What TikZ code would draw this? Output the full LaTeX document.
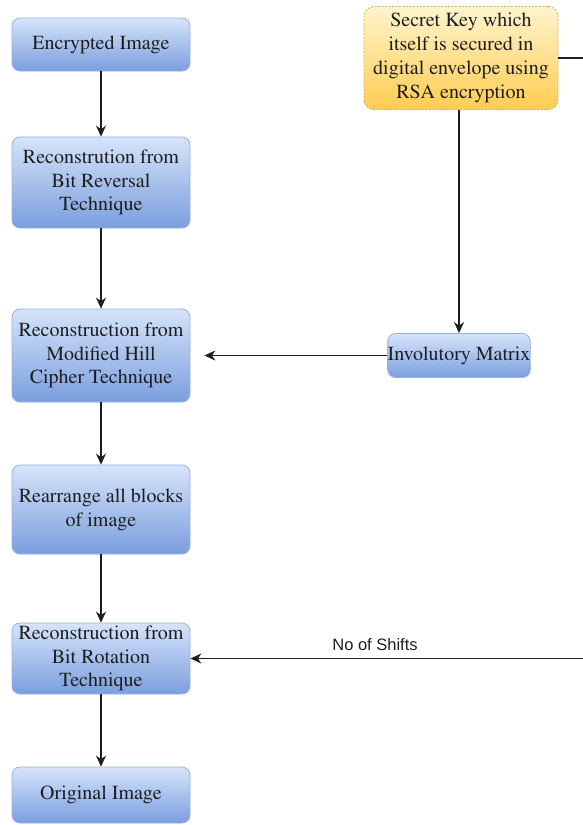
\documentclass[tikz,border=0pt]{standalone}
\usepackage{fontspec}
\newfontfamily\lsans{Liberation Sans}
\newcommand\timesfont{\fontencoding{OT1}\fontfamily{ptm}\selectfont}
\usetikzlibrary{arrows.meta}
\definecolor{bluetop}{RGB}{214,228,250}
\definecolor{bluebot}{RGB}{122,158,222}
\definecolor{blueline}{RGB}{150,176,222}
\definecolor{yeltop}{RGB}{255,244,205}
\definecolor{yelbot}{RGB}{255,204,82}
\definecolor{yelline}{RGB}{210,175,90}
\definecolor{txt}{RGB}{30,30,30}
\definecolor{conncol}{RGB}{30,30,30}
\begin{document}
\begin{tikzpicture}[x=1pt,y=-1pt,
  bluebox/.style={rectangle, rounded corners=8pt, draw=blueline, line width=0.8pt,
    top color=bluetop, bottom color=bluebot, align=center, text=txt,
    font=\timesfont\fontsize{20}{23.8}\selectfont, inner sep=0pt},
  keybox/.style={rectangle, rounded corners=10pt, draw=yelline, line width=0.9pt,
    dash pattern=on 2pt off 1.5pt, top color=yeltop, bottom color=yelbot,
    align=center, text=txt, font=\timesfont\fontsize{20}{23.8}\selectfont, inner sep=0pt},
  conn/.style={draw=conncol, line width=1.3pt, -{Stealth[length=11pt,width=10pt,inset=3.5pt]}}
]
\useasboundingbox (0,0) rectangle (583,825);
\clip (0,0) rectangle (583,825);
\fill[white] (0,0) rectangle (583,825);

\node[bluebox, minimum width=178pt, minimum height=53pt] (enc) at (101,44.5) {Encrypted Image};
\node[bluebox, minimum width=178pt, minimum height=91pt] (rev) at (101,182.5) {Reconstrution from\\Bit Reversal\\Technique};
\node[bluebox, minimum width=178pt, minimum height=93pt] (hill) at (101,355.5) {Reconstruction from\\Modified Hill\\Cipher Technique};
\node[bluebox, minimum width=178pt, minimum height=89pt] (rea) at (101,509.5) {Rearrange all blocks\\of image};
\node[bluebox, minimum width=178pt, minimum height=71pt] (rot) at (101,658.5) {Reconstruction from\\Bit Rotation\\Technique};
\node[bluebox, minimum width=178pt, minimum height=56pt] (orig) at (101,795) {Original Image};
\node[bluebox, minimum width=142pt, minimum height=44pt] (inv) at (459,355.5) {Involutory Matrix};
\node[keybox, minimum width=194pt, minimum height=103pt] (key) at (461,58) {Secret Key which\\itself is secured in\\digital envelope using\\RSA encryption};

\draw[conn] (enc) -- (rev);
\draw[conn] (rev) -- (hill);
\draw[conn] (hill) -- (rea);
\draw[conn] (rea) -- (rot);
\draw[conn] (rot) -- (orig);
\draw[conn] (key.south -| inv.north) -- (inv.north);
\draw[conn, shorten >=14pt] (inv.west) -- (inv.west -| hill.east);
\draw[conn] (key.east) -- ++(50,0) |- (rot.east);
\node[font=\lsans\fontsize{16.5}{19}\selectfont, text=txt] (shifts) at (375,645) {No of Shifts};
\end{tikzpicture}
\end{document}
